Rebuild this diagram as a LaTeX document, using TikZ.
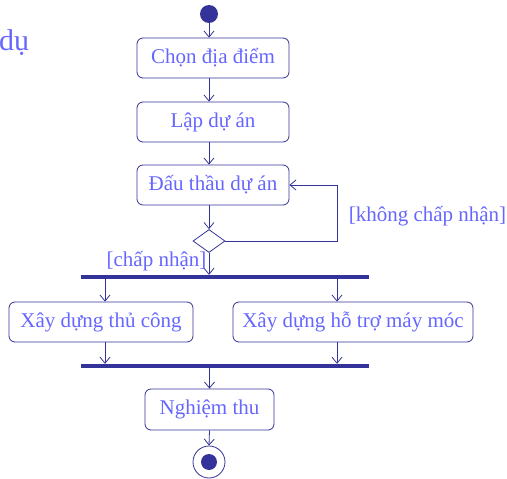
\documentclass[tikz,border=0pt]{standalone}
\usepackage{fontspec}
\setmainfont{Liberation Serif}
\usetikzlibrary{arrows.meta,shapes.geometric}
\definecolor{umlline}{RGB}{51,51,153}
\definecolor{umltext}{RGB}{102,102,255}
\begin{document}
\begin{tikzpicture}[x=1pt,y=-1pt,
    action/.style={draw=umlline, line width=0.8pt, rounded corners=6pt,
      minimum height=40pt, inner sep=0pt, text=umltext,
      font=\fontsize{21}{24}\selectfont},
    flow/.style={draw=umlline, line width=0.8pt,
      -{Straight Barb[length=6pt,width=10pt]}},
    bar/.style={fill=umlline, minimum width=288pt, minimum height=4pt,
      inner sep=0pt},
    guard/.style={text=umltext, font=\fontsize{21}{24}\selectfont,
      inner sep=0pt}]
    \useasboundingbox (0,0) rectangle (507,479);
    % Title leftover
    \node[anchor=base west, inner sep=0pt, text=umltext,
      font=\fontsize{30}{33}\selectfont] (title) at (-1,50) {dụ};

    % Start and actions
    \node[circle, fill=umlline, minimum size=18pt, inner sep=0pt] (start) at (209,14) {};
    \node[action, minimum width=152pt] (chon) at (213,58) {Chọn địa điểm};
    \node[action, minimum width=152pt] (lap) at (213,122) {Lập dự án};
    \node[action, minimum width=152pt] (dau) at (213,185) {Đấu thầu dự án};
    \node[diamond, draw=umlline, line width=0.8pt, minimum width=32pt,
      minimum height=23pt, inner sep=0pt] (dec) at (209,241) {};
    \coordinate (back) at (337,241);

    \draw[flow] (start) -- (start |- chon.north);
    \draw[flow] (chon.south -| start) -- (lap.north -| start);
    \draw[flow] (lap.south -| start) -- (dau.north -| start);
    \draw[flow] (dau.south -| start) -- (dec.north);

    % Guards
    \draw[flow] (dec.east) -- (back) |- (dau.east);
    \node[guard] (no) at (427.5,216) {[không chấp nhận]};

    % Fork
    \node[bar] (fork) at (225,277) {};
    \draw[flow] (dec.south) -- (dec.south |- fork.north);
    \node[guard] (yes) at (156.5,261) {[chấp nhận]};

    \node[action, minimum width=184pt] (tay) at (101,322) {Xây dựng thủ công};
    \node[action, minimum width=240pt] (may) at (353,322) {Xây dựng hỗ trợ máy móc};
    \draw[flow] ([xshift=4pt]tay.north |- fork.south) -- ([xshift=4pt]tay.north);
    \draw[flow] ([xshift=-16pt]may.north |- fork.south) -- ([xshift=-16pt]may.north);

    % Join
    \node[bar] (join) at (225,366) {};
    \draw[flow] ([xshift=4pt]tay.south) -- ([xshift=4pt]tay.south |- join.north);
    \draw[flow] ([xshift=-16pt]may.south) -- ([xshift=-16pt]may.south |- join.north);

    \node[action, minimum width=129pt, minimum height=41pt] (nghiem) at (209.5,409.5) {Nghiệm thu};
    \draw[flow] (join.south -| nghiem) -- (nghiem.north);

    % End
    \node[circle, draw=umlline, line width=0.8pt, minimum size=32pt,
      inner sep=0pt] (stop) at (209,462) {};
    \node[circle, fill=umlline, minimum size=16pt, inner sep=0pt] (stopdot) at (stop) {};
    \draw[flow] (nghiem.south) -- (stop.north);
\end{tikzpicture}
\end{document}
